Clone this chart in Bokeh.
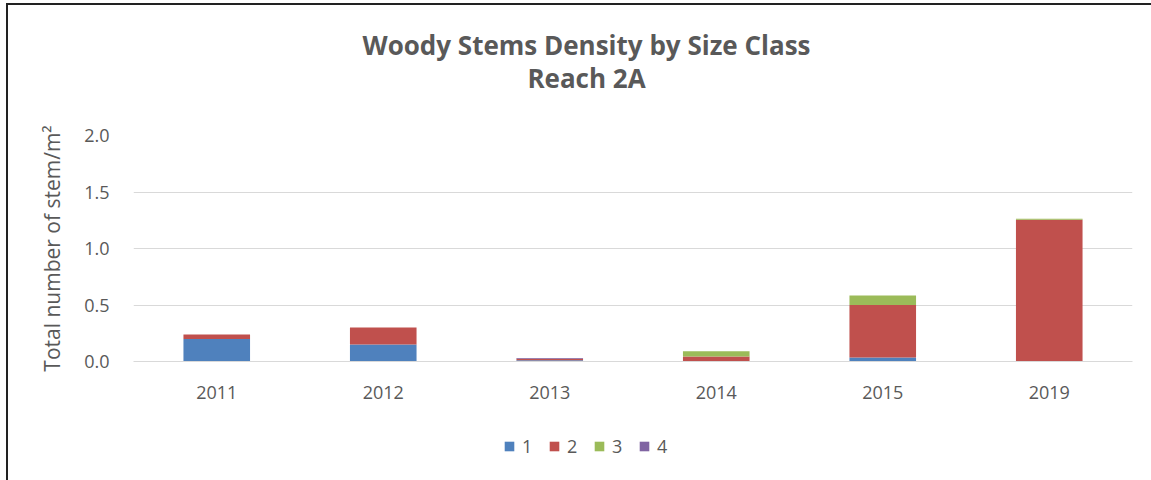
from bokeh.plotting import figure
from bokeh.layouts import column
from bokeh.models import (FactorRange, Range1d, Legend, LegendItem, Div,
                          SingleIntervalTicker, NumeralTickFormatter)
from bokeh.embed import file_html
from bokeh.resources import INLINE

years = ["2011", "2012", "2013", "2014", "2015", "2019"]
class_names = ["1", "2", "3", "4"]
size1 = [0.20, 0.15, 0.010, 0.0, 0.035, 0.0]
size2 = [0.04, 0.15, 0.015, 0.045, 0.465, 1.255]
size3 = [0.0, 0.0, 0.0, 0.045, 0.085, 0.008]
size4 = [0.0, 0.0, 0.005, 0.0, 0.0, 0.0]
colors = ["#4f81bd", "#c0504d", "#9bbb59", "#8064a2"]
title_lines = ["Woody Stems Density by Size Class", "Reach 2A"]

data = {"year": years, "1": size1, "2": size2, "3": size3, "4": size4}

FONT = "Open Sans"
GRAY = "#595959"

# title block
title = Div(text="<br>".join(title_lines), width=1143, height=110, margin=0,
            styles={"text-align": "center", "font-family": "'Open Sans'", "font-weight": "bold",
                    "font-size": "26px", "color": GRAY, "line-height": "33px",
                    "padding-top": "24px", "padding-left": "14px",
                    "box-sizing": "border-box", "width": "1143px"})

# main chart
p = figure(x_range=FactorRange(*years, range_padding=0), y_range=Range1d(0, 2.0),
           width=1143, height=305, output_backend="svg", toolbar_location=None,
           min_border_left=125, min_border_right=19, min_border_top=20, min_border_bottom=59)
p.title = None
renderers = p.vbar_stack(class_names, x="year", width=0.4, color=colors, source=data, line_width=0)

p.outline_line_color = None
p.xgrid.grid_line_color = None
p.ygrid.grid_line_color = "#d9d9d9"
p.ygrid.grid_line_width = 1

p.yaxis.ticker = SingleIntervalTicker(interval=0.5)
p.yaxis.formatter = NumeralTickFormatter(format="0.0")
p.yaxis.axis_line_color = None
p.yaxis.major_tick_line_color = None
p.yaxis.minor_tick_line_color = None
p.yaxis.major_label_standoff = 18
p.yaxis.major_label_text_font = FONT
p.yaxis.major_label_text_font_size = "18px"
p.yaxis.major_label_text_color = GRAY
p.yaxis.axis_label = "Total number of stem/m²"
p.yaxis.axis_label_text_font = FONT
p.yaxis.axis_label_text_font_size = "21px"
p.yaxis.axis_label_text_font_style = "normal"
p.yaxis.axis_label_text_color = GRAY
p.yaxis.axis_label_standoff = 15

p.xaxis.axis_line_color = "#d9d9d9"
p.xaxis.major_tick_line_color = None
p.xaxis.minor_tick_line_color = None
p.xaxis.major_label_standoff = 18
p.xaxis.major_label_text_font = FONT
p.xaxis.major_label_text_font_size = "18px"
p.xaxis.major_label_text_color = GRAY

# legend strip below the chart
q = figure(x_range=FactorRange(*years), y_range=Range1d(0, 2.0),
           width=1143, height=60, output_backend="svg", toolbar_location=None,
           x_axis_type=None, y_axis_type=None, min_border=0)
q.title = None
q.outline_line_color = None
dummy = q.vbar_stack(class_names, x="year", width=0.4, color=colors, source=data, line_width=0)
for r in dummy:
    r.visible = False

legend = Legend(items=[LegendItem(label=n, renderers=[r]) for n, r in zip(class_names, dummy)],
                orientation="horizontal", location=(370, 22),
                label_text_font=FONT, label_text_font_size="18px", label_text_color=GRAY,
                glyph_width=12, glyph_height=12, label_standoff=7, spacing=6,
                border_line_color=None, background_fill_alpha=0, margin=0, padding=0)
q.add_layout(legend, "center")

layout = column(title, p, q, spacing=0)
layout.styles = {"border-left": "2px solid #222222", "border-top": "2px solid #222222",
                 "margin-left": "6px", "margin-top": "3px"}

open("out.html", "w").write(file_html(layout, INLINE))
